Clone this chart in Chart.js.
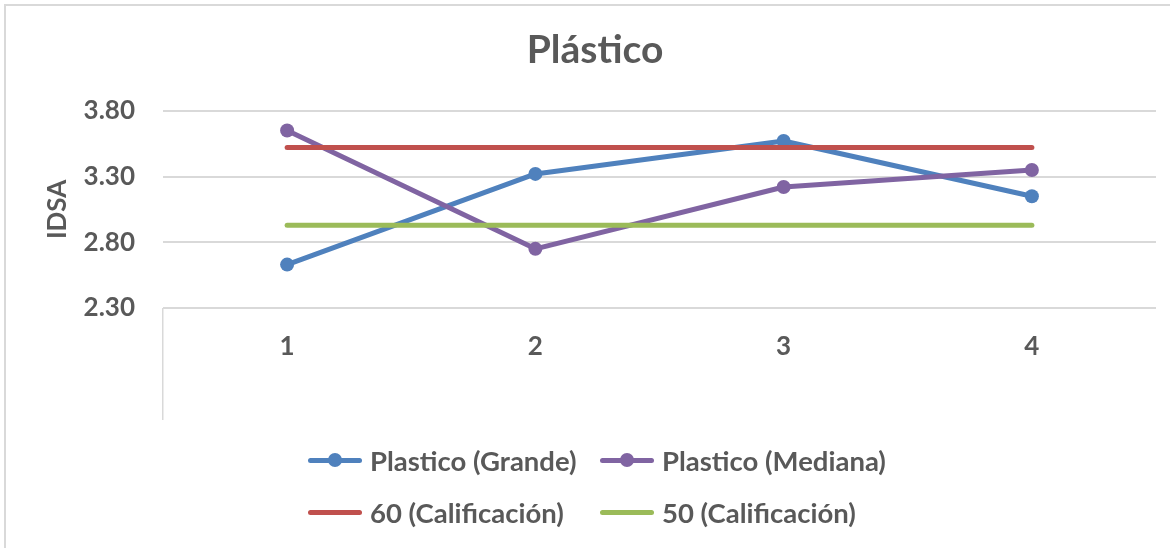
<!DOCTYPE html>
<html lang="es">
<head>
<meta charset="utf-8">
<title>Plástico</title>
<script src="https://cdn.jsdelivr.net/npm/chart.js@4/dist/chart.umd.min.js"></script>
<style>
  html, body { margin: 0; padding: 0; background: #ffffff; }
  #wrap { position: relative; width: 1170px; height: 548px; overflow: hidden; }
  #frame { position: absolute; left: 4px; top: 4px; right: -10px; bottom: -10px;
           border-top: 2px solid #d9d9d9; border-left: 2px solid #d9d9d9; pointer-events: none; }
  canvas { position: absolute; left: 0; top: 0; }
  #legend { position: absolute; left: 308px; top: 434px; display: grid;
            grid-template-columns: 292px auto; grid-auto-rows: 52px; align-items: center;
            font-family: Lato, "Open Sans", sans-serif; font-weight: 700; font-size: 27.5px; color: #595959; }
  .item { display: flex; align-items: center; white-space: nowrap; }
  .swatch { position: relative; width: 54px; height: 5px; border-radius: 3px; margin-right: 8px; }
  .swatch .dot { position: absolute; left: 50%; top: 50%; width: 14px; height: 14px;
                 margin: -7px 0 0 -7px; border-radius: 50%; }
</style>
</head>
<body>
<div id="wrap">
  <canvas id="chart" width="1170" height="548"></canvas>
  <div id="frame"></div>
  <div id="legend"></div>
</div>
<script>
// Categories and series values
const categories = ['1', '2', '3', '4'];
const plasticoGrande = [2.63, 3.32, 3.57, 3.15];
const plasticoMediana = [3.65, 2.75, 3.22, 3.35];
const calificacion60 = [3.52, 3.52, 3.52, 3.52];
const calificacion50 = [2.93, 2.93, 2.93, 2.93];
const yTickValues = [2.30, 2.80, 3.30, 3.80];

const seriesLabels = ['Plastico (Grande)', 'Plastico (Mediana)', '60 (Calificación)', '50 (Calificación)'];
const seriesColors = ['#4f81bd', '#8064a2', '#c0504d', '#9bbb59'];

const FONT = 'Lato, "Open Sans", sans-serif';
const TEXT = '#595959';
const GRID = '#d9d9d9';

function lineSet(label, data, color, withMarkers, order) {
  return {
    label, data, order,
    borderColor: color,
    backgroundColor: color,
    borderWidth: 5,
    borderCapStyle: 'round',
    borderJoinStyle: 'round',
    tension: 0,
    fill: false,
    pointRadius: withMarkers ? 7 : 0,
    pointHoverRadius: withMarkers ? 7 : 0,
    pointBorderWidth: 0,
    pointBackgroundColor: color
  };
}

const chart = new Chart(document.getElementById('chart'), {
  type: 'line',
  data: {
    labels: categories,
    datasets: [
      lineSet(seriesLabels[0], plasticoGrande, seriesColors[0], true, 4),
      lineSet(seriesLabels[1], plasticoMediana, seriesColors[1], true, 3),
      lineSet(seriesLabels[2], calificacion60, seriesColors[2], false, 2),
      lineSet(seriesLabels[3], calificacion50, seriesColors[3], false, 1)
    ]
  },
  options: {
    responsive: false,
    animation: false,
    devicePixelRatio: 1,
    events: [],
    layout: { padding: { left: 34, right: 14, top: 0, bottom: 0 } },
    plugins: {
      legend: { display: false },
      tooltip: { enabled: false },
      title: {
        display: true,
        text: 'Plástico',
        color: TEXT,
        font: { family: FONT, size: 39, weight: 'bold', lineHeight: 1.2 },
        padding: { top: 27, bottom: 37 }
      }
    },
    scales: {
      x: {
        offset: true,
        border: { display: false },
        grid: {
          offset: true,
          drawOnChartArea: false,
          drawTicks: true,
          tickLength: 112,
          lineWidth: 1.5,
          color: ctx => (ctx.index === 0 ? GRID : 'rgba(0,0,0,0)')
        },
        ticks: {
          color: TEXT,
          padding: -89,
          font: { family: FONT, size: 26, weight: 'bold' }
        },
        afterFit: s => { s.height = 240; }
      },
      y: {
        min: 2.3,
        max: 3.8,
        border: { display: false },
        grid: { color: GRID, lineWidth: 2, drawTicks: false },
        afterBuildTicks: s => { s.ticks = yTickValues.map(v => ({ value: v })); },
        ticks: {
          color: TEXT,
          padding: 28,
          font: { family: FONT, size: 26, weight: 'bold' },
          callback: v => Number(v).toFixed(2)
        },
        title: {
          display: true,
          text: 'IDSA',
          color: TEXT,
          font: { family: FONT, size: 26, weight: 'bold', lineHeight: 1.2 },
          padding: { top: 8, bottom: 0 }
        },
        afterFit: s => { s.width = 129; }
      }
    }
  }
});

// Legend built from the chart's own datasets
const legend = document.getElementById('legend');
chart.data.datasets.forEach(ds => {
  const item = document.createElement('div');
  item.className = 'item';
  const sw = document.createElement('span');
  sw.className = 'swatch';
  sw.style.background = ds.borderColor;
  if (ds.pointRadius > 0) {
    const dot = document.createElement('span');
    dot.className = 'dot';
    dot.style.background = ds.pointBackgroundColor;
    sw.appendChild(dot);
  }
  const txt = document.createElement('span');
  txt.textContent = ds.label;
  item.appendChild(sw);
  item.appendChild(txt);
  legend.appendChild(item);
});
</script>
</body>
</html>
